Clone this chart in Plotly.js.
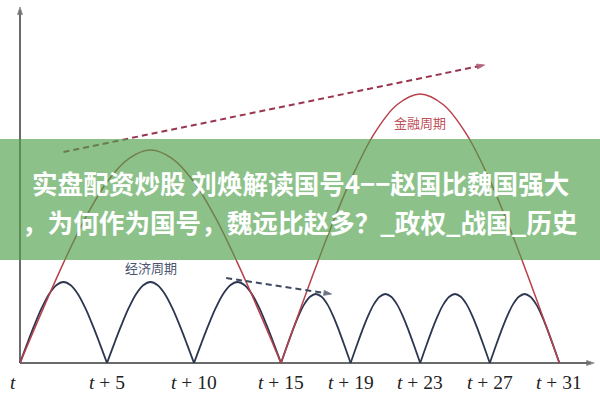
<!DOCTYPE html>
<html>
<head>
<meta charset="utf-8">
<script src="https://cdn.plot.ly/plotly-3.0.1.min.js"></script>
<style>html,body{margin:0;padding:0;background:#fff}#chart{width:600px;height:400px}</style>
</head>
<body>
<div id="chart"></div>
<script>
// x positions of cycle boundaries (time units after t)
const econBounds = [0, 5, 10, 15, 19, 23, 27, 31];
const econPeaks  = [81, 81, 81, 69, 69, 69, 69];
const finBounds  = [0, 15, 31];
const finPeaks   = [213, 269];
// arch profile (fraction of peak along each arch)
const archProfile = [0, 0.24, 0.47, 0.68, 0.85, 0.96, 1, 0.96, 0.85, 0.68, 0.47, 0.24, 0];
// tick labels
const tickVals  = [0, 5, 10, 15, 19, 23, 27, 31];
const tickTexts = ['<i>t</i>', '<i>t</i> + 5', '<i>t</i> + 10', '<i>t</i> + 15', '<i>t</i> + 19', '<i>t</i> + 23', '<i>t</i> + 27', '<i>t</i> + 31'];
// trend arrows
const finTrendX  = [2.5, 26.7];
const finTrendY  = [211, 298];
const econTrendX = [11.85, 17.9];
const econTrendY = [85, 69];
// axes extents
const axisXEnd = 33;
const axisYEnd = 356;
// labels
const finLabel = '金融周期';
const econLabel = '经济周期';
const bannerLines = ['实盘配资炒股 刘焕解读国号4−−赵国比魏国强大', '，为何作为国号，魏远比赵多？_政权_战国_历史'];

function arches(bounds, peaks) {
  const xs = [], ys = [];
  for (let i = 0; i < peaks.length; i++) {
    const a = bounds[i], b = bounds[i + 1];
    const n = archProfile.length - 1;
    archProfile.forEach((p, j) => { xs.push(a + (b - a) * j / n); ys.push(p * peaks[i]); });
    xs.push(null); ys.push(null);
  }
  return {xs, ys};
}

const econ = arches(econBounds, econPeaks);
const fin = arches(finBounds, finPeaks);

const traces = [
  {x: [0, 0], y: [0, axisYEnd], mode: 'lines+markers', line: {color: '#6b6b6b', width: 2},
   marker: {symbol: 'arrow', angleref: 'previous', size: [0, 8], color: '#333'}, hoverinfo: 'skip'},
  {x: [0, axisXEnd], y: [0, 0], mode: 'lines+markers', line: {color: '#6b6b6b', width: 2},
   marker: {symbol: 'arrow', angleref: 'previous', size: [0, 8], color: '#333'}, hoverinfo: 'skip'},
  {x: econ.xs, y: econ.ys, mode: 'lines', line: {color: '#2c3650', width: 1.8, shape: 'spline'}, connectgaps: false},
  {x: fin.xs, y: fin.ys, mode: 'lines', line: {color: '#b8404c', width: 1.5, shape: 'spline'}, connectgaps: false},
  {x: finTrendX, y: finTrendY, mode: 'lines+markers', line: {color: '#9a3550', width: 2, dash: '6px,4px'},
   marker: {symbol: 'arrow', angleref: 'previous', size: [0, 8], color: '#9a2040'}},
  {x: econTrendX, y: econTrendY, mode: 'lines+markers', line: {color: '#3e4a60', width: 2, dash: '6px,4px'},
   marker: {symbol: 'arrow', angleref: 'previous', size: [0, 8], color: '#2c3650'}}
];

const annotations = tickVals.map((v, i) => ({
  x: v, y: 0, xref: 'x', yref: 'y', text: tickTexts[i], showarrow: false,
  yanchor: 'top', yshift: -7, xshift: i === 0 ? -7 : 0,
  font: {family: 'Liberation Serif, DejaVu Serif, serif', size: 19.5, color: '#222'}
}));
annotations.push({x: 23.0, y: 241, xref: 'x', yref: 'y', text: finLabel, showarrow: false,
  font: {family: 'Noto Sans CJK SC', size: 13, color: '#c0505a'}});
annotations.push({x: 7.5, y: 96, xref: 'x', yref: 'y', text: econLabel, showarrow: false,
  font: {family: 'Noto Sans CJK SC', size: 13, color: '#4a5570'}});
annotations.push({x: 0.5, y: 1 - 182 / 400, xref: 'paper', yref: 'paper', text: bannerLines[0], showarrow: false,
  font: {family: 'Noto Sans CJK SC', size: 25.6, color: '#ffffff', weight: 700}});
annotations.push({x: 0.5, y: 1 - 221 / 400, xref: 'paper', yref: 'paper', text: bannerLines[1], showarrow: false,
  font: {family: 'Noto Sans CJK SC', size: 25.6, color: '#ffffff', weight: 700}});

const layout = {
  width: 600, height: 400,
  margin: {l: 0, r: 0, t: 0, b: 0},
  paper_bgcolor: '#ffffff', plot_bgcolor: '#ffffff',
  showlegend: false,
  xaxis: {range: [-20 / 17.4, 580 / 17.4], visible: false, fixedrange: true},
  yaxis: {range: [-37, 363], visible: false, fixedrange: true},
  shapes: [{type: 'rect', xref: 'paper', yref: 'paper', x0: 0, x1: 1, y0: 1 - 260 / 400, y1: 1 - 139 / 400,
    fillcolor: 'rgba(78,161,75,0.65)', line: {width: 0}, layer: 'above'}],
  annotations: annotations
};

Plotly.newPlot('chart', traces, layout, {staticPlot: true});
</script>
</body>
</html>
